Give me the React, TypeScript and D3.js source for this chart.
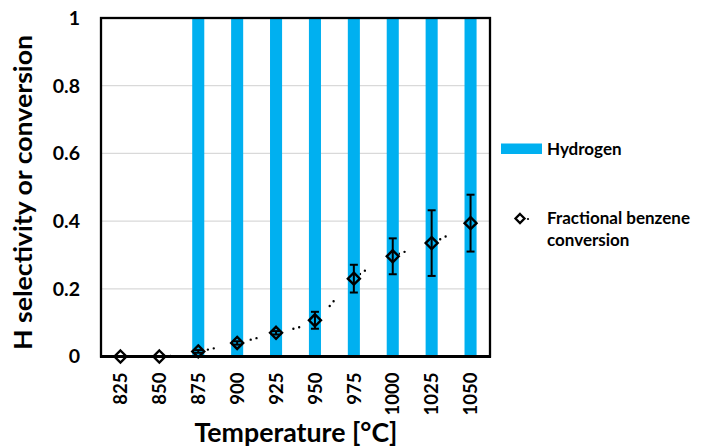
import React from "react";
import * as d3 from "d3";

const temperatures = ["825", "850", "875", "900", "925", "950", "975", "1000", "1025", "1050"];
const hydrogen = [0, 0, 1, 1, 1, 1, 1, 1, 1, 1];
const conversion = [0, 0, 0.015, 0.04, 0.07, 0.107, 0.23, 0.296, 0.335, 0.394];
const conversionErr = [0, 0, 0.004, 0.005, 0.005, 0.025, 0.041, 0.053, 0.097, 0.084];
const yTicks = [0, 0.2, 0.4, 0.6, 0.8, 1];

const W = 701, H = 448;
const M = { left: 101, right: 490, top: 18, bottom: 356.5 };
const FONT = "Lato, 'Open Sans', sans-serif";
const BLUE = "#00B0F0";

export default function App() {
  const x = d3.scaleBand<string>().domain(temperatures).range([M.left, M.right]).paddingInner(0.69).paddingOuter(0.345);
  const xc = (t: string) => (x(t) as number) + x.bandwidth() / 2;
  const y = d3.scaleLinear().domain([0, 1]).range([M.bottom, M.top]);
  const pts: [number, number][] = temperatures.map((t, i) => [xc(t), y(conversion[i])]);
  const line = d3.line().curve(d3.curveMonotoneX)(pts) || "";
  const diamond = (cx: number, cy: number, r: number) => `M${cx},${cy - r}L${cx + r},${cy}L${cx},${cy + r}L${cx - r},${cy}Z`;

  return (
    <svg width={W} height={H} style={{ position: "absolute", left: 0, top: 0, background: "#fff" }} fontFamily={FONT}>
      <defs>
        <clipPath id="plot"><rect x={M.left} y={M.top} width={M.right - M.left} height={M.bottom - M.top} /></clipPath>
      </defs>
      {yTicks.filter(v => v > 0 && v < 1).map(v => (
        <line key={v} x1={M.left} x2={M.right} y1={y(v)} y2={y(v)} stroke="#d9d9d9" strokeWidth={1.3} />
      ))}
      <g clipPath="url(#plot)">
        <path d={line} fill="none" stroke="#000" strokeWidth={2.4} strokeLinecap="round" strokeDasharray="0 6 0 38" />
      </g>
      {temperatures.map((t, i) => (
        <rect key={t} x={x(t)} width={x.bandwidth()} y={y(hydrogen[i])} height={y(0) - y(hydrogen[i])} fill={BLUE} />
      ))}
      {temperatures.map((t, i) => {
        if (conversionErr[i] <= 0) return null;
        const cx = xc(t);
        const y1 = y(conversion[i] + conversionErr[i]);
        const y2 = y(conversion[i] - conversionErr[i]);
        return (
          <g key={t} stroke="#000" strokeWidth={2}>
            <line x1={cx} x2={cx} y1={y1} y2={y2} />
            <line x1={cx - 4} x2={cx + 4} y1={y1} y2={y1} />
            <line x1={cx - 4} x2={cx + 4} y1={y2} y2={y2} />
          </g>
        );
      })}
      {pts.map(([px, py], i) => (
        <path key={i} d={diamond(px, py, 6)} fill="none" stroke="#000" strokeWidth={2.4} />
      ))}
      <rect x={M.left} y={M.top} width={M.right - M.left} height={M.bottom - M.top} fill="none" stroke="#000" strokeWidth={2.3} />
      <line x1={M.left - 1} x2={M.right + 1} y1={M.bottom} y2={M.bottom} stroke="#000" strokeWidth={3.2} />
      {yTicks.map(v => (
        <text key={v} x={80} y={y(v)} dy="0.35em" textAnchor="end" fontSize={19.5} fontWeight={700}>{v}</text>
      ))}
      {temperatures.map(t => (
        <text key={t} transform={`translate(${xc(t)},${M.bottom + 16}) rotate(-90)`} dy="0.36em" textAnchor="end" fontSize={18.5} fontWeight={700}>{t}</text>
      ))}
      <text x={296} y={442} textAnchor="middle" fontSize={26} fontWeight={700} textLength={203} lengthAdjust="spacingAndGlyphs">Temperature [°C]</text>
      <text transform={`translate(31.5,192.5) rotate(-90)`} textAnchor="middle" fontSize={25.5} fontWeight={700} textLength={315} lengthAdjust="spacingAndGlyphs">H selectivity or conversion</text>
      <rect x={501} y={143.5} width={41} height={10.5} fill={BLUE} />
      <text x={547} y={149} dy="0.35em" fontSize={17} fontWeight={700}>Hydrogen</text>
      <path d={diamond(520, 218.5, 4.5)} fill="none" stroke="#000" strokeWidth={2.3} />
      <circle cx={528} cy={219} r={1.1} fill="#000" />
      <text x={547} y={218.5} dy="0.35em" fontSize={17} fontWeight={700}>Fractional benzene</text>
      <text x={547} y={240.5} dy="0.35em" fontSize={17} fontWeight={700}>conversion</text>
    </svg>
  );
}
